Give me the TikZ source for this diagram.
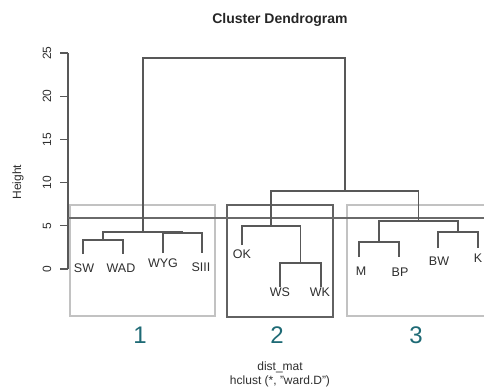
\documentclass[tikz,border=0pt]{standalone}
\usepackage{fontspec}
\setmainfont{Liberation Sans}
\definecolor{linegray}{HTML}{585858}
\definecolor{boxlight}{HTML}{C2C2C2}
\definecolor{boxdark}{HTML}{626262}
\definecolor{cutgray}{HTML}{6A6A6A}
\definecolor{txtgray}{HTML}{2E2E2E}
\definecolor{teal}{HTML}{1E6A75}
\begin{document}
\begin{tikzpicture}[x=1pt,y=-1pt,
  tree/.style={draw=linegray,line width=1.25pt},
  leaflabel/.style={font=\fontsize{12.5}{14}\selectfont,text=txtgray,inner sep=0pt,anchor=center},
  axislabel/.style={font=\fontsize{12}{14}\selectfont,text=txtgray,inner sep=0pt,rotate=90},
  clusterbox/.style={line width=1.2pt},
  clusternum/.style={font=\fontsize{24}{28}\selectfont,text=teal,inner sep=0pt},
  bottomtext/.style={font=\fontsize{12}{14}\selectfont,text=txtgray,inner sep=0pt}]
\useasboundingbox (0,0) rectangle (484,388);
\clip (0,0) rectangle (484,388);
% title
\node[font=\bfseries\fontsize{14}{16}\selectfont,text=black!85,inner sep=0pt] (title) at (280,20) {Cluster Dendrogram};
% axis
\draw[linegray,line width=1.2pt] (68,53) -- (68,269);
\foreach \v/\yy in {0/269,5/225.8,10/182.6,15/139.4,20/96.2,25/53}{
  \draw[linegray,line width=1.2pt] (60,\yy) -- (68,\yy);
  \node[axislabel] at (47,\yy) {\v};
}
\node[axislabel] (ylab) at (18,182) {Height};
% cluster boxes
\node[draw=boxlight,clusterbox,minimum width=145pt,minimum height=111pt,inner sep=0pt] (box1) at (142.5,260.5) {};
\node[draw=boxdark,clusterbox,minimum width=106pt,minimum height=112pt,inner sep=0pt] (box2) at (280,261) {};
\node[draw=boxlight,clusterbox,minimum width=143pt,minimum height=111pt,inner sep=0pt] (box3) at (418.5,260.5) {};
% cut line
\coordinate (cutL) at (68,218);
\coordinate (cutR) at (490,218);
\draw[cutgray,line width=1.2pt] (cutL) -- (cutR);
% leaves
\coordinate (lSW) at (83,254);
\coordinate (lWAD) at (123,254);
\coordinate (lWYG) at (163,253);
\coordinate (lSIII) at (202,253);
\coordinate (lOK) at (242,245);
\coordinate (lWS) at (280,287);
\coordinate (lWK) at (321,287);
\coordinate (lM) at (359,257);
\coordinate (lBP) at (399,257);
\coordinate (lBW) at (438,248);
\coordinate (lK) at (478,248);
% internal nodes
\coordinate (nSWWAD) at (103,240);
\coordinate (nWYGSIII) at (182.5,233);
\coordinate (n1) at (143,232);
\coordinate (nWSWK) at (300.5,263);
\coordinate (n2) at (271,226);
\coordinate (nMBP) at (379,242);
\coordinate (nBWK) at (458,232);
\coordinate (n3) at (418.5,221);
\coordinate (n23) at (345,191);
\coordinate (root) at (244,58);
% tree
\draw[tree] (lSW) |- (nSWWAD) -| (lWAD);
\draw[tree] (lWYG) |- (nWYGSIII) -| (lSIII);
\draw[tree] (nSWWAD) |- (n1) -| (nWYGSIII);
\draw[tree] (lWS) |- (nWSWK) -| (lWK);
\draw[tree] (lOK) |- (n2) -| (nWSWK);
\draw[tree] (lM) |- (nMBP) -| (lBP);
\draw[tree] (lBW) |- (nBWK) -| (lK);
\draw[tree] (nMBP) |- (n3) -| (nBWK);
\draw[tree] (n2) |- (n23) -| (n3);
\draw[tree] (n1) |- (root) -| (n23);
% leaf labels
\node[leaflabel] (tSW) at (84,268) {SW};
\node[leaflabel] (tWAD) at (121,268) {WAD};
\node[leaflabel] (tWYG) at (163,263) {WYG};
\node[leaflabel] (tSIII) at (201,267) {SIII};
\node[leaflabel] (tOK) at (242,254) {OK};
\node[leaflabel] (tWS) at (280,292) {WS};
\node[leaflabel] (tWK) at (320,292) {WK};
\node[leaflabel] (tM) at (361,271) {M};
\node[leaflabel] (tBP) at (400,272) {BP};
\node[leaflabel] (tBW) at (439,261) {BW};
\node[leaflabel] (tK) at (478,258) {K};
% cluster numbers
\node[clusternum] (c1) at (140,335) {1};
\node[clusternum] (c2) at (277,335) {2};
\node[clusternum] (c3) at (416,335) {3};
% bottom texts
\node[bottomtext] (dm) at (280,367) {dist\_mat};
\node[bottomtext] (hc) at (280,381) {hclust (*, "ward.D")};
\end{tikzpicture}
\end{document}
